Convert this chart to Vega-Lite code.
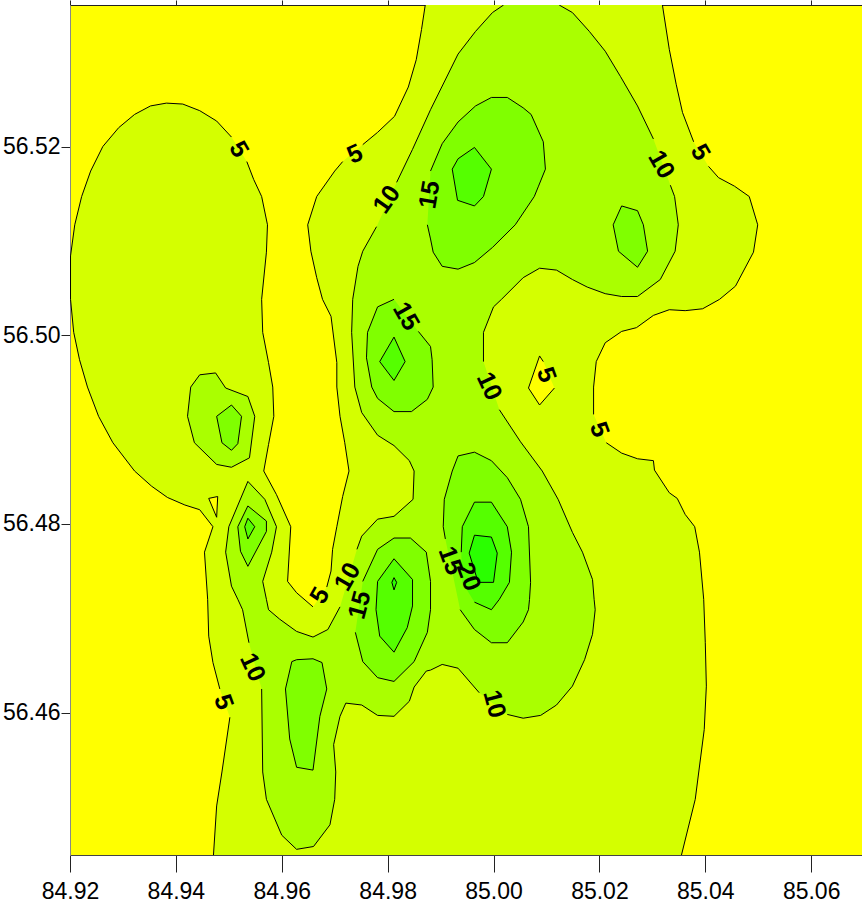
{"$schema":"https://vega.github.io/schema/vega-lite/v6.json","width":792,"height":850,"autosize":"none","padding":{"left":70,"top":5,"right":0,"bottom":56},"background":"white","config":{"view":{"stroke":null,"fill":"#ffff00"},"font":"Liberation Sans"},
"data":{"values":[
{"p":"A","l":"5","s":"A1","x":84.9534,"y":56.5184},{"p":"A","l":"5","s":"A1","x":84.9547,"y":56.5165},{"p":"A","l":"5","s":"A1","x":84.9562,"y":56.5147},{"p":"A","l":"5","s":"A1","x":84.9573,"y":56.5117},{"p":"A","l":"5","s":"A1","x":84.9571,"y":56.5088},{"p":"A","l":"5","s":"A1","x":84.9562,"y":56.5038},{"p":"A","l":"5","s":"A1","x":84.9564,"y":56.5003},{"p":"A","l":"5","s":"A1","x":84.9575,"y":56.4971},{"p":"A","l":"5","s":"A1","x":84.9583,"y":56.4945},{"p":"A","l":"5","s":"A1","x":84.9585,"y":56.4914},{"p":"A","l":"5","s":"A1","x":84.9575,"y":56.4884},{"p":"A","l":"5","s":"A1","x":84.9566,"y":56.4856},{"p":"A","l":"5","s":"A1","x":84.959,"y":56.4831},{"p":"A","l":"5","s":"A1","x":84.9617,"y":56.4797},{"p":"A","l":"5","s":"A1","x":84.9611,"y":56.4739},{"p":"A","l":"5","s":"A1","x":84.9628,"y":56.4727},{"p":"A","l":"5","s":"A1","x":84.9659,"y":56.4712},
{"p":"A","l":"5","s":"A2","x":84.9685,"y":56.4733},{"p":"A","l":"5","s":"A2","x":84.9693,"y":56.475},{"p":"A","l":"5","s":"A2","x":84.9696,"y":56.4773},{"p":"A","l":"5","s":"A2","x":84.9704,"y":56.4797},{"p":"A","l":"5","s":"A2","x":84.9715,"y":56.4829},{"p":"A","l":"5","s":"A2","x":84.9727,"y":56.4856},{"p":"A","l":"5","s":"A2","x":84.9719,"y":56.4886},{"p":"A","l":"5","s":"A2","x":84.971,"y":56.4914},{"p":"A","l":"5","s":"A2","x":84.9704,"y":56.4945},{"p":"A","l":"5","s":"A2","x":84.9704,"y":56.4971},{"p":"A","l":"5","s":"A2","x":84.9693,"y":56.502},{"p":"A","l":"5","s":"A2","x":84.9677,"y":56.5038},{"p":"A","l":"5","s":"A2","x":84.9666,"y":56.5061},{"p":"A","l":"5","s":"A2","x":84.9655,"y":56.5089},{"p":"A","l":"5","s":"A2","x":84.9649,"y":56.5117},{"p":"A","l":"5","s":"A2","x":84.9666,"y":56.5147},{"p":"A","l":"5","s":"A2","x":84.97,"y":56.5174},{"p":"A","l":"5","s":"A2","x":84.9715,"y":56.5184},
{"p":"A","l":"5","s":"A3","x":84.9753,"y":56.5202},{"p":"A","l":"5","s":"A3","x":84.9781,"y":56.5215},{"p":"A","l":"5","s":"A3","x":84.9813,"y":56.5232},{"p":"A","l":"5","s":"A3","x":84.9839,"y":56.5263},{"p":"A","l":"5","s":"A3","x":84.9854,"y":56.5292},{"p":"A","l":"5","s":"A3","x":84.9864,"y":56.5324},{"p":"A","l":"5","s":"A3","x":84.9871,"y":56.535},
{"p":"A","l":"5","s":"A4","x":85.0319,"y":56.535},{"p":"A","l":"5","s":"A4","x":85.0332,"y":56.5303},{"p":"A","l":"5","s":"A4","x":85.0345,"y":56.5266},{"p":"A","l":"5","s":"A4","x":85.0357,"y":56.5236},{"p":"A","l":"5","s":"A4","x":85.0378,"y":56.5205},
{"p":"A","l":"5","s":"A5","x":85.0406,"y":56.5179},{"p":"A","l":"5","s":"A5","x":85.0425,"y":56.5167},{"p":"A","l":"5","s":"A5","x":85.0455,"y":56.5158},{"p":"A","l":"5","s":"A5","x":85.0483,"y":56.5147},{"p":"A","l":"5","s":"A5","x":85.0499,"y":56.5117},{"p":"A","l":"5","s":"A5","x":85.0491,"y":56.5088},{"p":"A","l":"5","s":"A5","x":85.0457,"y":56.5052},{"p":"A","l":"5","s":"A5","x":85.0427,"y":56.5038},{"p":"A","l":"5","s":"A5","x":85.0395,"y":56.5028},{"p":"A","l":"5","s":"A5","x":85.0362,"y":56.5026},{"p":"A","l":"5","s":"A5","x":85.0332,"y":56.5027},{"p":"A","l":"5","s":"A5","x":85.0302,"y":56.5021},{"p":"A","l":"5","s":"A5","x":85.027,"y":56.5008},{"p":"A","l":"5","s":"A5","x":85.0242,"y":56.5004},{"p":"A","l":"5","s":"A5","x":85.0211,"y":56.4992},{"p":"A","l":"5","s":"A5","x":85.0194,"y":56.4972},{"p":"A","l":"5","s":"A5","x":85.0189,"y":56.4945},{"p":"A","l":"5","s":"A5","x":85.0189,"y":56.4916},
{"p":"A","l":"5","s":"A6","x":85.0213,"y":56.4886},{"p":"A","l":"5","s":"A6","x":85.0242,"y":56.4875},{"p":"A","l":"5","s":"A6","x":85.0272,"y":56.4869},{"p":"A","l":"5","s":"A6","x":85.0302,"y":56.4867},{"p":"A","l":"5","s":"A6","x":85.0304,"y":56.4857},{"p":"A","l":"5","s":"A6","x":85.0332,"y":56.4833},{"p":"A","l":"5","s":"A6","x":85.0347,"y":56.4827},{"p":"A","l":"5","s":"A6","x":85.0362,"y":56.481},{"p":"A","l":"5","s":"A6","x":85.038,"y":56.4797},{"p":"A","l":"5","s":"A6","x":85.0389,"y":56.477},{"p":"A","l":"5","s":"A6","x":85.0397,"y":56.472},{"p":"A","l":"5","s":"A6","x":85.04,"y":56.4674},{"p":"A","l":"5","s":"A6","x":85.0402,"y":56.4628},{"p":"A","l":"5","s":"A6","x":85.0398,"y":56.4582},{"p":"A","l":"5","s":"A6","x":85.0381,"y":56.4508},{"p":"A","l":"5","s":"A6","x":85.0355,"y":56.4449},
{"p":"A","l":"5","s":"A7","x":84.9471,"y":56.4449},{"p":"A","l":"5","s":"A7","x":84.9477,"y":56.4501},{"p":"A","l":"5","s":"A7","x":84.9487,"y":56.4537},{"p":"A","l":"5","s":"A7","x":84.9502,"y":56.4595},
{"p":"A","l":"5","s":"A8","x":84.9483,"y":56.4625},{"p":"A","l":"5","s":"A8","x":84.947,"y":56.4653},{"p":"A","l":"5","s":"A8","x":84.9462,"y":56.4681},{"p":"A","l":"5","s":"A8","x":84.946,"y":56.472},{"p":"A","l":"5","s":"A8","x":84.9454,"y":56.477},{"p":"A","l":"5","s":"A8","x":84.947,"y":56.4797},{"p":"A","l":"5","s":"A8","x":84.9445,"y":56.4815},{"p":"A","l":"5","s":"A8","x":84.9417,"y":56.482},{"p":"A","l":"5","s":"A8","x":84.9384,"y":56.4828},{"p":"A","l":"5","s":"A8","x":84.9354,"y":56.484},{"p":"A","l":"5","s":"A8","x":84.9322,"y":56.4856},{"p":"A","l":"5","s":"A8","x":84.9281,"y":56.4886},{"p":"A","l":"5","s":"A8","x":84.9254,"y":56.4914},{"p":"A","l":"5","s":"A8","x":84.9233,"y":56.4945},{"p":"A","l":"5","s":"A8","x":84.9218,"y":56.4974},{"p":"A","l":"5","s":"A8","x":84.9207,"y":56.5003},{"p":"A","l":"5","s":"A8","x":84.9201,"y":56.5038},{"p":"A","l":"5","s":"A8","x":84.9201,"y":56.5084},{"p":"A","l":"5","s":"A8","x":84.9209,"y":56.5117},{"p":"A","l":"5","s":"A8","x":84.9222,"y":56.5147},{"p":"A","l":"5","s":"A8","x":84.9239,"y":56.5174},{"p":"A","l":"5","s":"A8","x":84.9262,"y":56.52},{"p":"A","l":"5","s":"A8","x":84.9292,"y":56.522},{"p":"A","l":"5","s":"A8","x":84.9322,"y":56.5234},{"p":"A","l":"5","s":"A8","x":84.9352,"y":56.5243},{"p":"A","l":"5","s":"A8","x":84.9382,"y":56.5246},{"p":"A","l":"5","s":"A8","x":84.9413,"y":56.5245},{"p":"A","l":"5","s":"A8","x":84.9445,"y":56.5238},{"p":"A","l":"5","s":"A8","x":84.9477,"y":56.5227},{"p":"A","l":"5","s":"A8","x":84.9505,"y":56.521},
{"p":"H1","l":"0","s":"H1","x":84.9462,"y":56.4827},{"p":"H1","l":"0","s":"H1","x":84.9479,"y":56.4829},{"p":"H1","l":"0","s":"H1","x":84.9477,"y":56.4807},{"p":"H1","l":"0","s":"H1","x":84.9462,"y":56.4827},
{"p":"H2","l":"0","s":"H2","x":85.0094,"y":56.4972},{"p":"H2","l":"0","s":"H2","x":85.0087,"y":56.4978},{"p":"H2","l":"0","s":"H2","x":85.0066,"y":56.4944},{"p":"H2","l":"0","s":"H2","x":85.0087,"y":56.4926},{"p":"H2","l":"0","s":"H2","x":85.0115,"y":56.4944},
{"p":"B","l":"10","s":"B1","x":85.0334,"y":56.5159},{"p":"B","l":"10","s":"B1","x":85.0342,"y":56.5147},{"p":"B","l":"10","s":"B1","x":85.0349,"y":56.5117},{"p":"B","l":"10","s":"B1","x":85.0343,"y":56.5089},{"p":"B","l":"10","s":"B1","x":85.0315,"y":56.5059},{"p":"B","l":"10","s":"B1","x":85.0272,"y":56.5041},{"p":"B","l":"10","s":"B1","x":85.0242,"y":56.5041},{"p":"B","l":"10","s":"B1","x":85.0211,"y":56.5044},{"p":"B","l":"10","s":"B1","x":85.0177,"y":56.5051},{"p":"B","l":"10","s":"B1","x":85.0149,"y":56.5059},{"p":"B","l":"10","s":"B1","x":85.0119,"y":56.5069},{"p":"B","l":"10","s":"B1","x":85.0087,"y":56.5071},{"p":"B","l":"10","s":"B1","x":85.0056,"y":56.5061},{"p":"B","l":"10","s":"B1","x":85.0015,"y":56.5038},{"p":"B","l":"10","s":"B1","x":85.0,"y":56.503},{"p":"B","l":"10","s":"B1","x":84.9981,"y":56.5003},{"p":"B","l":"10","s":"B1","x":84.9981,"y":56.4972},
{"p":"B","l":"10","s":"B2","x":85.0011,"y":56.4921},{"p":"B","l":"10","s":"B2","x":85.0051,"y":56.4887},{"p":"B","l":"10","s":"B2","x":85.0092,"y":56.4856},{"p":"B","l":"10","s":"B2","x":85.0122,"y":56.4826},{"p":"B","l":"10","s":"B2","x":85.0149,"y":56.4791},{"p":"B","l":"10","s":"B2","x":85.0168,"y":56.477},{"p":"B","l":"10","s":"B2","x":85.0187,"y":56.4741},{"p":"B","l":"10","s":"B2","x":85.019,"y":56.472},{"p":"B","l":"10","s":"B2","x":85.0192,"y":56.4709},{"p":"B","l":"10","s":"B2","x":85.0187,"y":56.4683},{"p":"B","l":"10","s":"B2","x":85.0172,"y":56.4656},{"p":"B","l":"10","s":"B2","x":85.0149,"y":56.4628},{"p":"B","l":"10","s":"B2","x":85.0119,"y":56.4608},{"p":"B","l":"10","s":"B2","x":85.0089,"y":56.4597},{"p":"B","l":"10","s":"B2","x":85.0056,"y":56.4594},{"p":"B","l":"10","s":"B2","x":85.0026,"y":56.4598},
{"p":"B","l":"10","s":"B3","x":84.9973,"y":56.4621},{"p":"B","l":"10","s":"B3","x":84.9933,"y":56.4647},{"p":"B","l":"10","s":"B3","x":84.9903,"y":56.4651},{"p":"B","l":"10","s":"B3","x":84.9881,"y":56.4645},{"p":"B","l":"10","s":"B3","x":84.9873,"y":56.4644},{"p":"B","l":"10","s":"B3","x":84.985,"y":56.4627},{"p":"B","l":"10","s":"B3","x":84.9841,"y":56.4612},{"p":"B","l":"10","s":"B3","x":84.9812,"y":56.4596},{"p":"B","l":"10","s":"B3","x":84.9781,"y":56.4597},{"p":"B","l":"10","s":"B3","x":84.9751,"y":56.4608},{"p":"B","l":"10","s":"B3","x":84.9721,"y":56.461},{"p":"B","l":"10","s":"B3","x":84.971,"y":56.4596},{"p":"B","l":"10","s":"B3","x":84.9698,"y":56.4566},{"p":"B","l":"10","s":"B3","x":84.9702,"y":56.4537},{"p":"B","l":"10","s":"B3","x":84.97,"y":56.4508},{"p":"B","l":"10","s":"B3","x":84.9691,"y":56.4481},{"p":"B","l":"10","s":"B3","x":84.966,"y":56.4458},{"p":"B","l":"10","s":"B3","x":84.9628,"y":56.4455},{"p":"B","l":"10","s":"B3","x":84.96,"y":56.447},{"p":"B","l":"10","s":"B3","x":84.9571,"y":56.4508},{"p":"B","l":"10","s":"B3","x":84.9564,"y":56.4537},{"p":"B","l":"10","s":"B3","x":84.9562,"y":56.4625},
{"p":"B","l":"10","s":"B4","x":84.9538,"y":56.4674},{"p":"B","l":"10","s":"B4","x":84.9526,"y":56.4709},{"p":"B","l":"10","s":"B4","x":84.9517,"y":56.472},{"p":"B","l":"10","s":"B4","x":84.9505,"y":56.4734},{"p":"B","l":"10","s":"B4","x":84.9494,"y":56.477},{"p":"B","l":"10","s":"B4","x":84.95,"y":56.4797},{"p":"B","l":"10","s":"B4","x":84.9536,"y":56.4845},{"p":"B","l":"10","s":"B4","x":84.9568,"y":56.4826},{"p":"B","l":"10","s":"B4","x":84.959,"y":56.4797},{"p":"B","l":"10","s":"B4","x":84.9581,"y":56.477},{"p":"B","l":"10","s":"B4","x":84.9564,"y":56.4739},{"p":"B","l":"10","s":"B4","x":84.9571,"y":56.472},{"p":"B","l":"10","s":"B4","x":84.9575,"y":56.4709},{"p":"B","l":"10","s":"B4","x":84.9596,"y":56.4699},{"p":"B","l":"10","s":"B4","x":84.9628,"y":56.4686},{"p":"B","l":"10","s":"B4","x":84.9659,"y":56.468},{"p":"B","l":"10","s":"B4","x":84.9687,"y":56.4688},{"p":"B","l":"10","s":"B4","x":84.971,"y":56.4712},
{"p":"B","l":"10","s":"B5","x":84.9742,"y":56.4773},{"p":"B","l":"10","s":"B5","x":84.9751,"y":56.4787},{"p":"B","l":"10","s":"B5","x":84.9781,"y":56.4805},{"p":"B","l":"10","s":"B5","x":84.9812,"y":56.4808},{"p":"B","l":"10","s":"B5","x":84.9848,"y":56.4826},{"p":"B","l":"10","s":"B5","x":84.985,"y":56.4856},{"p":"B","l":"10","s":"B5","x":84.9841,"y":56.4867},{"p":"B","l":"10","s":"B5","x":84.9812,"y":56.4883},{"p":"B","l":"10","s":"B5","x":84.9781,"y":56.4894},{"p":"B","l":"10","s":"B5","x":84.9751,"y":56.4918},{"p":"B","l":"10","s":"B5","x":84.9738,"y":56.4945},{"p":"B","l":"10","s":"B5","x":84.9732,"y":56.5003},{"p":"B","l":"10","s":"B5","x":84.9734,"y":56.5038},{"p":"B","l":"10","s":"B5","x":84.9744,"y":56.5073},{"p":"B","l":"10","s":"B5","x":84.9753,"y":56.5089},{"p":"B","l":"10","s":"B5","x":84.9779,"y":56.5115},
{"p":"B","l":"10","s":"B6","x":84.9817,"y":56.5162},{"p":"B","l":"10","s":"B6","x":84.9847,"y":56.5197},{"p":"B","l":"10","s":"B6","x":84.9881,"y":56.5239},{"p":"B","l":"10","s":"B6","x":84.9933,"y":56.5298},{"p":"B","l":"10","s":"B6","x":84.9966,"y":56.5322},{"p":"B","l":"10","s":"B6","x":84.9998,"y":56.5342},{"p":"B","l":"10","s":"B6","x":85.0019,"y":56.535},
{"p":"B","l":"10","s":"B7","x":85.0124,"y":56.535},{"p":"B","l":"10","s":"B7","x":85.0149,"y":56.5342},{"p":"B","l":"10","s":"B7","x":85.0181,"y":56.5322},{"p":"B","l":"10","s":"B7","x":85.0211,"y":56.5301},{"p":"B","l":"10","s":"B7","x":85.024,"y":56.5274},{"p":"B","l":"10","s":"B7","x":85.0272,"y":56.5243},{"p":"B","l":"10","s":"B7","x":85.0302,"y":56.5208},
{"p":"F","l":"10","s":"F","x":84.9445,"y":56.4958},{"p":"F","l":"10","s":"F","x":84.9475,"y":56.496},{"p":"F","l":"10","s":"F","x":84.9494,"y":56.4944},{"p":"F","l":"10","s":"F","x":84.9536,"y":56.4935},{"p":"F","l":"10","s":"F","x":84.9549,"y":56.4914},{"p":"F","l":"10","s":"F","x":84.9539,"y":56.487},{"p":"F","l":"10","s":"F","x":84.9505,"y":56.486},{"p":"F","l":"10","s":"F","x":84.9477,"y":56.4863},{"p":"F","l":"10","s":"F","x":84.9435,"y":56.4886},{"p":"F","l":"10","s":"F","x":84.9422,"y":56.4914},{"p":"F","l":"10","s":"F","x":84.9428,"y":56.4945},{"p":"F","l":"10","s":"F","x":84.9445,"y":56.4958},
{"p":"C","l":"15","s":"C","x":84.9881,"y":56.5174},{"p":"C","l":"15","s":"C","x":84.9903,"y":56.5203},{"p":"C","l":"15","s":"C","x":84.9933,"y":56.5226},{"p":"C","l":"15","s":"C","x":84.9966,"y":56.5243},{"p":"C","l":"15","s":"C","x":84.9996,"y":56.5252},{"p":"C","l":"15","s":"C","x":85.0026,"y":56.5252},{"p":"C","l":"15","s":"C","x":85.0056,"y":56.5241},{"p":"C","l":"15","s":"C","x":85.0071,"y":56.5234},{"p":"C","l":"15","s":"C","x":85.0094,"y":56.5205},{"p":"C","l":"15","s":"C","x":85.0098,"y":56.5176},{"p":"C","l":"15","s":"C","x":85.0085,"y":56.5158},{"p":"C","l":"15","s":"C","x":85.0077,"y":56.5147},{"p":"C","l":"15","s":"C","x":85.0041,"y":56.5117},{"p":"C","l":"15","s":"C","x":84.9998,"y":56.5093},{"p":"C","l":"15","s":"C","x":84.9964,"y":56.5077},{"p":"C","l":"15","s":"C","x":84.9933,"y":56.507},{"p":"C","l":"15","s":"C","x":84.9903,"y":56.5073},{"p":"C","l":"15","s":"C","x":84.9886,"y":56.5088},{"p":"C","l":"15","s":"C","x":84.9881,"y":56.5102},{"p":"C","l":"15","s":"C","x":84.9875,"y":56.5117},
{"p":"D","l":"15","s":"D","x":85.0242,"y":56.5137},{"p":"D","l":"15","s":"D","x":85.0272,"y":56.5132},{"p":"D","l":"15","s":"D","x":85.0283,"y":56.5117},{"p":"D","l":"15","s":"D","x":85.0291,"y":56.5089},{"p":"D","l":"15","s":"D","x":85.0272,"y":56.5072},{"p":"D","l":"15","s":"D","x":85.0236,"y":56.5089},{"p":"D","l":"15","s":"D","x":85.0226,"y":56.5117},{"p":"D","l":"15","s":"D","x":85.0242,"y":56.5137},
{"p":"E","l":"15","s":"E","x":84.9858,"y":56.5004},{"p":"E","l":"15","s":"E","x":84.9881,"y":56.4988},{"p":"E","l":"15","s":"E","x":84.9884,"y":56.4974},{"p":"E","l":"15","s":"E","x":84.9886,"y":56.4945},{"p":"E","l":"15","s":"E","x":84.9875,"y":56.4932},{"p":"E","l":"15","s":"E","x":84.9845,"y":56.4919},{"p":"E","l":"15","s":"E","x":84.9812,"y":56.4919},{"p":"E","l":"15","s":"E","x":84.9781,"y":56.4933},{"p":"E","l":"15","s":"E","x":84.977,"y":56.4945},{"p":"E","l":"15","s":"E","x":84.976,"y":56.4976},{"p":"E","l":"15","s":"E","x":84.9762,"y":56.5003},{"p":"E","l":"15","s":"E","x":84.9781,"y":56.503},{"p":"E","l":"15","s":"E","x":84.9812,"y":56.5038},
{"p":"F2","l":"15","s":"F2","x":84.9505,"y":56.4926},{"p":"F2","l":"15","s":"F2","x":84.9524,"y":56.4914},{"p":"F2","l":"15","s":"F2","x":84.9517,"y":56.4885},{"p":"F2","l":"15","s":"F2","x":84.9505,"y":56.4878},{"p":"F2","l":"15","s":"F2","x":84.9487,"y":56.4886},{"p":"F2","l":"15","s":"F2","x":84.9477,"y":56.4914},{"p":"F2","l":"15","s":"F2","x":84.9505,"y":56.4926},
{"p":"G","l":"15","s":"G","x":84.9536,"y":56.4819},{"p":"G","l":"15","s":"G","x":84.9571,"y":56.4803},{"p":"G","l":"15","s":"G","x":84.9571,"y":56.4792},{"p":"G","l":"15","s":"G","x":84.9536,"y":56.4755},{"p":"G","l":"15","s":"G","x":84.9522,"y":56.4771},{"p":"G","l":"15","s":"G","x":84.9517,"y":56.4797},{"p":"G","l":"15","s":"G","x":84.9536,"y":56.4819},
{"p":"I","l":"15","s":"I","x":84.9753,"y":56.4739},{"p":"I","l":"15","s":"I","x":84.9781,"y":56.4773},{"p":"I","l":"15","s":"I","x":84.9812,"y":56.4785},{"p":"I","l":"15","s":"I","x":84.9843,"y":56.4785},{"p":"I","l":"15","s":"I","x":84.9873,"y":56.477},{"p":"I","l":"15","s":"I","x":84.9881,"y":56.4739},{"p":"I","l":"15","s":"I","x":84.9881,"y":56.4709},{"p":"I","l":"15","s":"I","x":84.9875,"y":56.4685},{"p":"I","l":"15","s":"I","x":84.985,"y":56.4654},{"p":"I","l":"15","s":"I","x":84.9812,"y":56.4633},{"p":"I","l":"15","s":"I","x":84.9781,"y":56.4637},{"p":"I","l":"15","s":"I","x":84.9753,"y":56.4654},{"p":"I","l":"15","s":"I","x":84.9739,"y":56.4685},
{"p":"J","l":"15","s":"J","x":84.9619,"y":56.4654},{"p":"J","l":"15","s":"J","x":84.9628,"y":56.4656},{"p":"J","l":"15","s":"J","x":84.9659,"y":56.4657},{"p":"J","l":"15","s":"J","x":84.9676,"y":56.4653},{"p":"J","l":"15","s":"J","x":84.9685,"y":56.4625},{"p":"J","l":"15","s":"J","x":84.9672,"y":56.4596},{"p":"J","l":"15","s":"J","x":84.9659,"y":56.4539},{"p":"J","l":"15","s":"J","x":84.9628,"y":56.4542},{"p":"J","l":"15","s":"J","x":84.9615,"y":56.4572},{"p":"J","l":"15","s":"J","x":84.9607,"y":56.4625},{"p":"J","l":"15","s":"J","x":84.9619,"y":56.4654},
{"p":"K","l":"15","s":"K","x":84.9909,"y":56.4784},{"p":"K","l":"15","s":"K","x":84.9905,"y":56.4797},{"p":"K","l":"15","s":"K","x":84.9907,"y":56.4826},{"p":"K","l":"15","s":"K","x":84.9922,"y":56.4856},{"p":"K","l":"15","s":"K","x":84.9933,"y":56.4872},{"p":"K","l":"15","s":"K","x":84.9964,"y":56.4876},{"p":"K","l":"15","s":"K","x":84.9996,"y":56.4867},{"p":"K","l":"15","s":"K","x":85.0026,"y":56.4849},{"p":"K","l":"15","s":"K","x":85.0051,"y":56.4826},{"p":"K","l":"15","s":"K","x":85.0066,"y":56.4797},{"p":"K","l":"15","s":"K","x":85.007,"y":56.4738},{"p":"K","l":"15","s":"K","x":85.0068,"y":56.472},{"p":"K","l":"15","s":"K","x":85.0066,"y":56.4709},{"p":"K","l":"15","s":"K","x":85.0056,"y":56.4696},{"p":"K","l":"15","s":"K","x":85.0026,"y":56.4674},{"p":"K","l":"15","s":"K","x":84.9996,"y":56.4674},{"p":"K","l":"15","s":"K","x":84.9964,"y":56.4688},{"p":"K","l":"15","s":"K","x":84.9937,"y":56.4709},
{"p":"C2","l":"20","s":"C2","x":84.9964,"y":56.5199},{"p":"C2","l":"20","s":"C2","x":84.9996,"y":56.5176},{"p":"C2","l":"20","s":"C2","x":84.9981,"y":56.5147},{"p":"C2","l":"20","s":"C2","x":84.9964,"y":56.5137},{"p":"C2","l":"20","s":"C2","x":84.9932,"y":56.5143},{"p":"C2","l":"20","s":"C2","x":84.9922,"y":56.5176},{"p":"C2","l":"20","s":"C2","x":84.9933,"y":56.5187},{"p":"C2","l":"20","s":"C2","x":84.9964,"y":56.5199},
{"p":"E2","l":"20","s":"E2","x":84.9812,"y":56.4998},{"p":"E2","l":"20","s":"E2","x":84.9833,"y":56.4972},{"p":"E2","l":"20","s":"E2","x":84.9812,"y":56.4952},{"p":"E2","l":"20","s":"E2","x":84.9785,"y":56.4972},{"p":"E2","l":"20","s":"E2","x":84.9812,"y":56.4998},
{"p":"G2","l":"20","s":"G2","x":84.9536,"y":56.4806},{"p":"G2","l":"20","s":"G2","x":84.9549,"y":56.4797},{"p":"G2","l":"20","s":"G2","x":84.9536,"y":56.4784},{"p":"G2","l":"20","s":"G2","x":84.953,"y":56.4797},{"p":"G2","l":"20","s":"G2","x":84.9536,"y":56.4806},
{"p":"I2","l":"20","s":"I2","x":84.9812,"y":56.4763},{"p":"I2","l":"20","s":"I2","x":84.9847,"y":56.4741},{"p":"I2","l":"20","s":"I2","x":84.9847,"y":56.4713},{"p":"I2","l":"20","s":"I2","x":84.9837,"y":56.469},{"p":"I2","l":"20","s":"I2","x":84.9812,"y":56.4664},{"p":"I2","l":"20","s":"I2","x":84.9785,"y":56.4681},{"p":"I2","l":"20","s":"I2","x":84.9778,"y":56.4709},{"p":"I2","l":"20","s":"I2","x":84.9781,"y":56.4739},{"p":"I2","l":"20","s":"I2","x":84.9812,"y":56.4763},
{"p":"K2","l":"20","s":"K2","x":84.9939,"y":56.477},{"p":"K2","l":"20","s":"K2","x":84.9941,"y":56.4797},{"p":"K2","l":"20","s":"K2","x":84.9964,"y":56.4823},{"p":"K2","l":"20","s":"K2","x":84.9996,"y":56.4823},{"p":"K2","l":"20","s":"K2","x":85.0026,"y":56.4797},{"p":"K2","l":"20","s":"K2","x":85.0034,"y":56.477},{"p":"K2","l":"20","s":"K2","x":85.003,"y":56.4738},{"p":"K2","l":"20","s":"K2","x":85.0011,"y":56.472},{"p":"K2","l":"20","s":"K2","x":84.9996,"y":56.4709},{"p":"K2","l":"20","s":"K2","x":84.9964,"y":56.4717},{"p":"K2","l":"20","s":"K2b","x":84.9941,"y":56.4738},
{"p":"I3","l":"25","s":"I3","x":84.9812,"y":56.4743},{"p":"I3","l":"25","s":"I3","x":84.9817,"y":56.4738},{"p":"I3","l":"25","s":"I3","x":84.9812,"y":56.473},{"p":"I3","l":"25","s":"I3","x":84.9808,"y":56.4738},{"p":"I3","l":"25","s":"I3","x":84.9812,"y":56.4743},
{"p":"K3","l":"25","s":"K3","x":84.9964,"y":56.4788},{"p":"K3","l":"25","s":"K3","x":84.9996,"y":56.4786},{"p":"K3","l":"25","s":"K3","x":85.0007,"y":56.4769},{"p":"K3","l":"25","s":"K3","x":85.0,"y":56.4738},{"p":"K3","l":"25","s":"K3","x":84.9971,"y":56.4738},{"p":"K3","l":"25","s":"K3","x":84.9954,"y":56.4769},{"p":"K3","l":"25","s":"K3","x":84.9964,"y":56.4788}
]},
"layer":[
{"mark":{"type":"line","clip":true,"strokeWidth":0,"stroke":"transparent"},"encoding":{"x":{"field":"x","type":"quantitative","scale":{"domain":[84.92,85.0696],"nice":false,"zero":false},"axis":{"orient":"bottom","values":[84.92,84.94,84.96,84.98,85.0,85.02,85.04,85.06],"format":".2f","title":null,"grid":false,"tickSize":17,"tickColor":"#222","domainColor":"#444","labelFontSize":23,"labelColor":"black","labelPadding":8,"labelFlush":false,"labelOverlap":false,"labelFont":"Liberation Sans"}},"y":{"field":"y","type":"quantitative","scale":{"domain":[56.4449,56.535],"nice":false,"zero":false},"axis":{"orient":"left","values":[56.46,56.48,56.5,56.52],"format":".2f","title":null,"grid":false,"tickSize":9,"tickColor":"#222","domainColor":"#888","labelFontSize":23,"labelColor":"black","labelPadding":1,"labelFlush":false,"labelOverlap":false,"labelFont":"Liberation Sans"}},"fill":{"field":"l","type":"nominal","scale":{"domain":["0","5","10","15","20","25"],"range":["#ffff00","#d4ff00","#aaff00","#80ff00","#55ff00","#2aff00"]},"legend":null},"detail":{"field":"p"},"order":{"value":null}}},
{"mark":{"type":"line","clip":true,"strokeWidth":1,"stroke":"black"},"encoding":{"x":{"field":"x","type":"quantitative","axis":null},"y":{"field":"y","type":"quantitative"},"detail":{"field":"s"},"order":{"value":null}}},
{"data":{"values":[{"x":84.9519,"y":56.5197,"t":"5","a":60},{"x":84.9738,"y":56.5192,"t":"5","a":-25},{"x":84.9798,"y":56.5144,"t":"10","a":-55},{"x":84.9879,"y":56.5149,"t":"15","a":-80},{"x":84.9835,"y":56.502,"t":"15","a":60},{"x":85.0317,"y":56.5181,"t":"10","a":60},{"x":85.0391,"y":56.5194,"t":"5","a":60},{"x":84.9992,"y":56.4946,"t":"10","a":65},{"x":85.01,"y":56.4958,"t":"5","a":70},{"x":85.02,"y":56.49,"t":"5","a":70},{"x":84.9919,"y":56.4761,"t":"15","a":70},{"x":84.9953,"y":56.4744,"t":"20","a":70},{"x":84.9724,"y":56.4744,"t":"10","a":-60},{"x":84.9747,"y":56.4714,"t":"15","a":-75},{"x":84.9672,"y":56.4724,"t":"5","a":-60},{"x":84.9545,"y":56.4648,"t":"10","a":65},{"x":84.949,"y":56.4611,"t":"5","a":70},{"x":85.0002,"y":56.4609,"t":"10","a":75}]},"mark":{"type":"text","font":"Liberation Sans","fontWeight":"bold","fontSize":25,"align":"center","baseline":"middle","color":"black"},"encoding":{"x":{"field":"x","type":"quantitative","axis":null},"y":{"field":"y","type":"quantitative"},"text":{"field":"t"},"angle":{"field":"a","type":"quantitative","scale":null}}},
{"data":{"values":[{"x":84.92},{"x":85.06}]},"mark":{"type":"rule","strokeWidth":0},"encoding":{"x":{"field":"x","type":"quantitative","axis":{"orient":"top","values":[84.92,84.94,84.96,84.98,85.0,85.02,85.04,85.06],"labels":false,"title":null,"grid":false,"tickSize":5,"tickColor":"#222","domainColor":"#222"}}}}
],"resolve":{"axis":{"x":"independent"}}}
